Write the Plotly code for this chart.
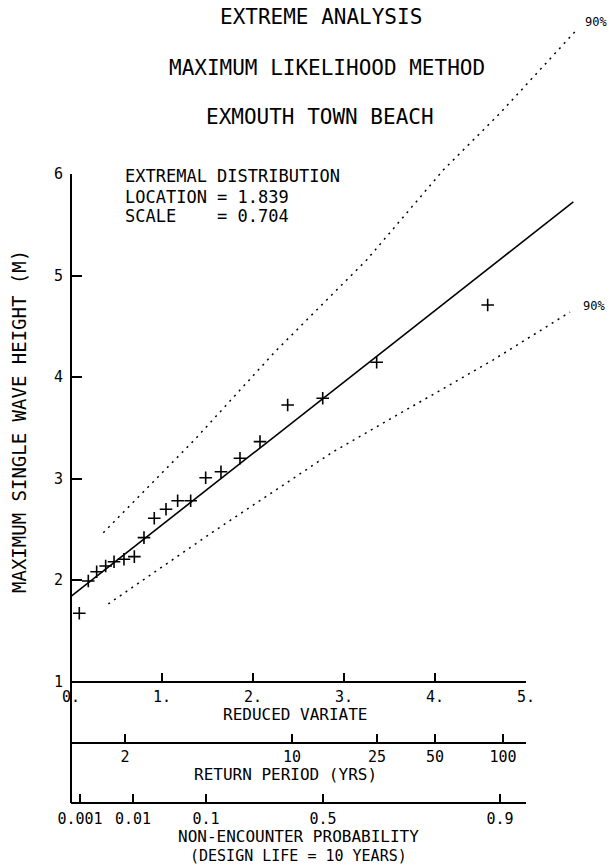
import plotly.graph_objects as go

# ---------------- data ----------------
reduced_variate = [0.091, 0.190, 0.282, 0.381, 0.473, 0.582, 0.696, 0.802, 0.915, 1.044,
                   1.172, 1.315, 1.480, 1.648, 1.857, 2.077, 2.381, 2.766, 3.359, 4.579]
wave_height = [1.672, 1.990, 2.082, 2.138, 2.180, 2.204, 2.230, 2.417, 2.608, 2.697,
               2.781, 2.781, 3.008, 3.067, 3.199, 3.363, 3.724, 3.790, 4.145, 4.709]

fit_x = [0.0, 5.52]
fit_h = [1.839, 5.725]

upper90_x = [0.355, 1.363, 2.242, 3.249, 4.091, 4.714, 5.538]
upper90_h = [2.466, 3.386, 4.249, 5.153, 6.039, 6.598, 7.402]
lower90_x = [0.410, 1.564, 2.882, 3.725, 4.637, 5.484]
lower90_h = [1.764, 2.476, 3.264, 3.695, 4.167, 4.640]

h_ticks = [1, 2, 3, 4, 5, 6]
h_labels = ["1", "2", "3", "4", "5", "6"]
rv_ticks = [0, 1, 2, 3, 4, 5]
rv_labels = ["0.", "1.", "2.", "3.", "4.", "5."]
rp_ticks = [0.593, 2.429, 3.363, 4.0, 4.747]
rp_labels = ["2", "10", "25", "50", "100"]
ne_ticks = [0.099, 0.681, 1.484, 2.769, 4.714]
ne_labels = ["0.001", "0.01", "0.1", "0.5", "0.9"]

titles = ["EXTREME ANALYSIS", "MAXIMUM LIKELIHOOD METHOD", "EXMOUTH TOWN BEACH"]
info_lines = ["EXTREMAL DISTRIBUTION",
              "LOCATION = 1.839",
              "SCALE\u00a0\u00a0\u00a0\u00a0= 0.704"]

# ---------------- geometry ----------------
W, HT = 611, 867
X0, PXX = 71.0, 91.0       # pixel of reduced variate 0, pixels per unit
Y1, PXH = 681.5, 101.5     # pixel of height 1 m, pixels per metre
X_END = X0 + 5 * PXX
Y_TOP = Y1 - 5 * PXH
RP_Y, NE_Y = 743.0, 803.0

def fx(px):
    return px / W

def fy(py):
    return 1 - py / HT

def xd(px):
    return (px - X0) / PXX

def hd(py):
    return 1 + (Y1 - py) / PXH

FONT = "DejaVu Sans Mono"
BLACK = "black"

fig = go.Figure()

# data traces on the full-page data axes
fig.add_trace(go.Scatter(x=upper90_x, y=upper90_h, mode="lines",
                         line=dict(color=BLACK, width=1.5, dash="2px,5px"),
                         showlegend=False, hoverinfo="skip"))
fig.add_trace(go.Scatter(x=lower90_x, y=lower90_h, mode="lines",
                         line=dict(color=BLACK, width=1.5, dash="2px,5px"),
                         showlegend=False, hoverinfo="skip"))
fig.add_trace(go.Scatter(x=fit_x, y=fit_h, mode="lines",
                         line=dict(color=BLACK, width=1.6),
                         showlegend=False, hoverinfo="skip"))
fig.add_trace(go.Scatter(x=reduced_variate, y=wave_height, mode="markers",
                         marker=dict(symbol="cross-thin", size=9,
                                     line=dict(width=1.6, color=BLACK)),
                         showlegend=False, hoverinfo="skip"))

# invisible helper traces so that every drawn axis owns a subplot
for xa, ya in [("x2", "y2"), ("x3", "y3"), ("x4", "y3")]:
    fig.add_trace(go.Scatter(x=[0], y=[1 if ya == "y2" else 0.5], xaxis=xa, yaxis=ya,
                             mode="markers", marker=dict(opacity=0),
                             showlegend=False, hoverinfo="skip"))

tickfont = dict(family=FONT, size=15, color=BLACK)
common_x = dict(domain=[fx(X0), fx(X_END)], range=[0, 5], anchor="free",
                showline=True, linecolor=BLACK, linewidth=1.5,
                ticks="inside", ticklen=8, tickwidth=1.5, tickcolor=BLACK,
                showgrid=False, zeroline=False, tickfont=tickfont,
                fixedrange=True, tickmode="array", automargin=False)

fig.update_layout(
    width=W, height=HT, autosize=False,
    margin=dict(l=0, r=0, t=0, b=0, pad=0, autoexpand=False),
    paper_bgcolor="white", plot_bgcolor="rgba(0,0,0,0)",
    xaxis=dict(domain=[0, 1], range=[xd(0), xd(W)], visible=False, fixedrange=True,
               automargin=False),
    yaxis=dict(domain=[0, 1], range=[hd(HT), hd(0)], visible=False, fixedrange=True,
               automargin=False),
    xaxis2=dict(common_x, position=fy(Y1), tickvals=rv_ticks, ticktext=rv_labels,
                ticklabelstandoff=2),
    xaxis3=dict(common_x, position=fy(RP_Y), tickvals=rp_ticks, ticktext=rp_labels,
                ticklabelstandoff=0),
    xaxis4=dict(common_x, position=fy(NE_Y), tickvals=ne_ticks, ticktext=ne_labels,
                ticklabelstandoff=2),
    yaxis2=dict(domain=[fy(Y1), fy(Y_TOP)], range=[1, 6], anchor="free", position=fx(X0),
                showline=True, linecolor=BLACK, linewidth=2,
                ticks="inside", ticklen=10, tickwidth=1.5, tickcolor=BLACK,
                tickvals=h_ticks, ticktext=h_labels, tickmode="array",
                showgrid=False, zeroline=False, tickfont=tickfont,
                ticklabelstandoff=4, fixedrange=True, automargin=False),
    yaxis3=dict(domain=[fy(NE_Y), fy(Y1)], range=[0, 1], anchor="free", position=fx(X0),
                showline=True, linecolor=BLACK, linewidth=2, ticks="",
                showticklabels=False, showgrid=False, zeroline=False, fixedrange=True,
                automargin=False),
)

def note(text, px, py, size, angle=0, xanchor="center"):
    fig.add_annotation(text=text, x=fx(px), y=fy(py), xref="paper", yref="paper",
                       xanchor=xanchor, yanchor="middle", showarrow=False,
                       textangle=angle, font=dict(family=FONT, size=size, color=BLACK))

# titles
note(titles[0], 321, 17, 21)
note(titles[1], 327, 68, 21)
note(titles[2], 320, 117, 21)

# info box
note(info_lines[0], 123, 176, 17, xanchor="left")
note(info_lines[1], 123, 197, 17, xanchor="left")
note(info_lines[2], 123, 216, 17, xanchor="left")

# confidence labels
note("90%", 596, 22, 12)
note("90%", 594, 306, 12)

# axis titles
note("MAXIMUM SINGLE WAVE HEIGHT (M)", 19, 422, 19, angle=-90)
note("REDUCED VARIATE", 295, 714, 16)
note("RETURN PERIOD (YRS)", 285, 774, 16)
note("NON-ENCOUNTER PROBABILITY", 298, 836, 16)
note("(DESIGN LIFE = 10 YEARS)", 298, 856, 15)

fig.write_html("out.html", config={"displayModeBar": False})
